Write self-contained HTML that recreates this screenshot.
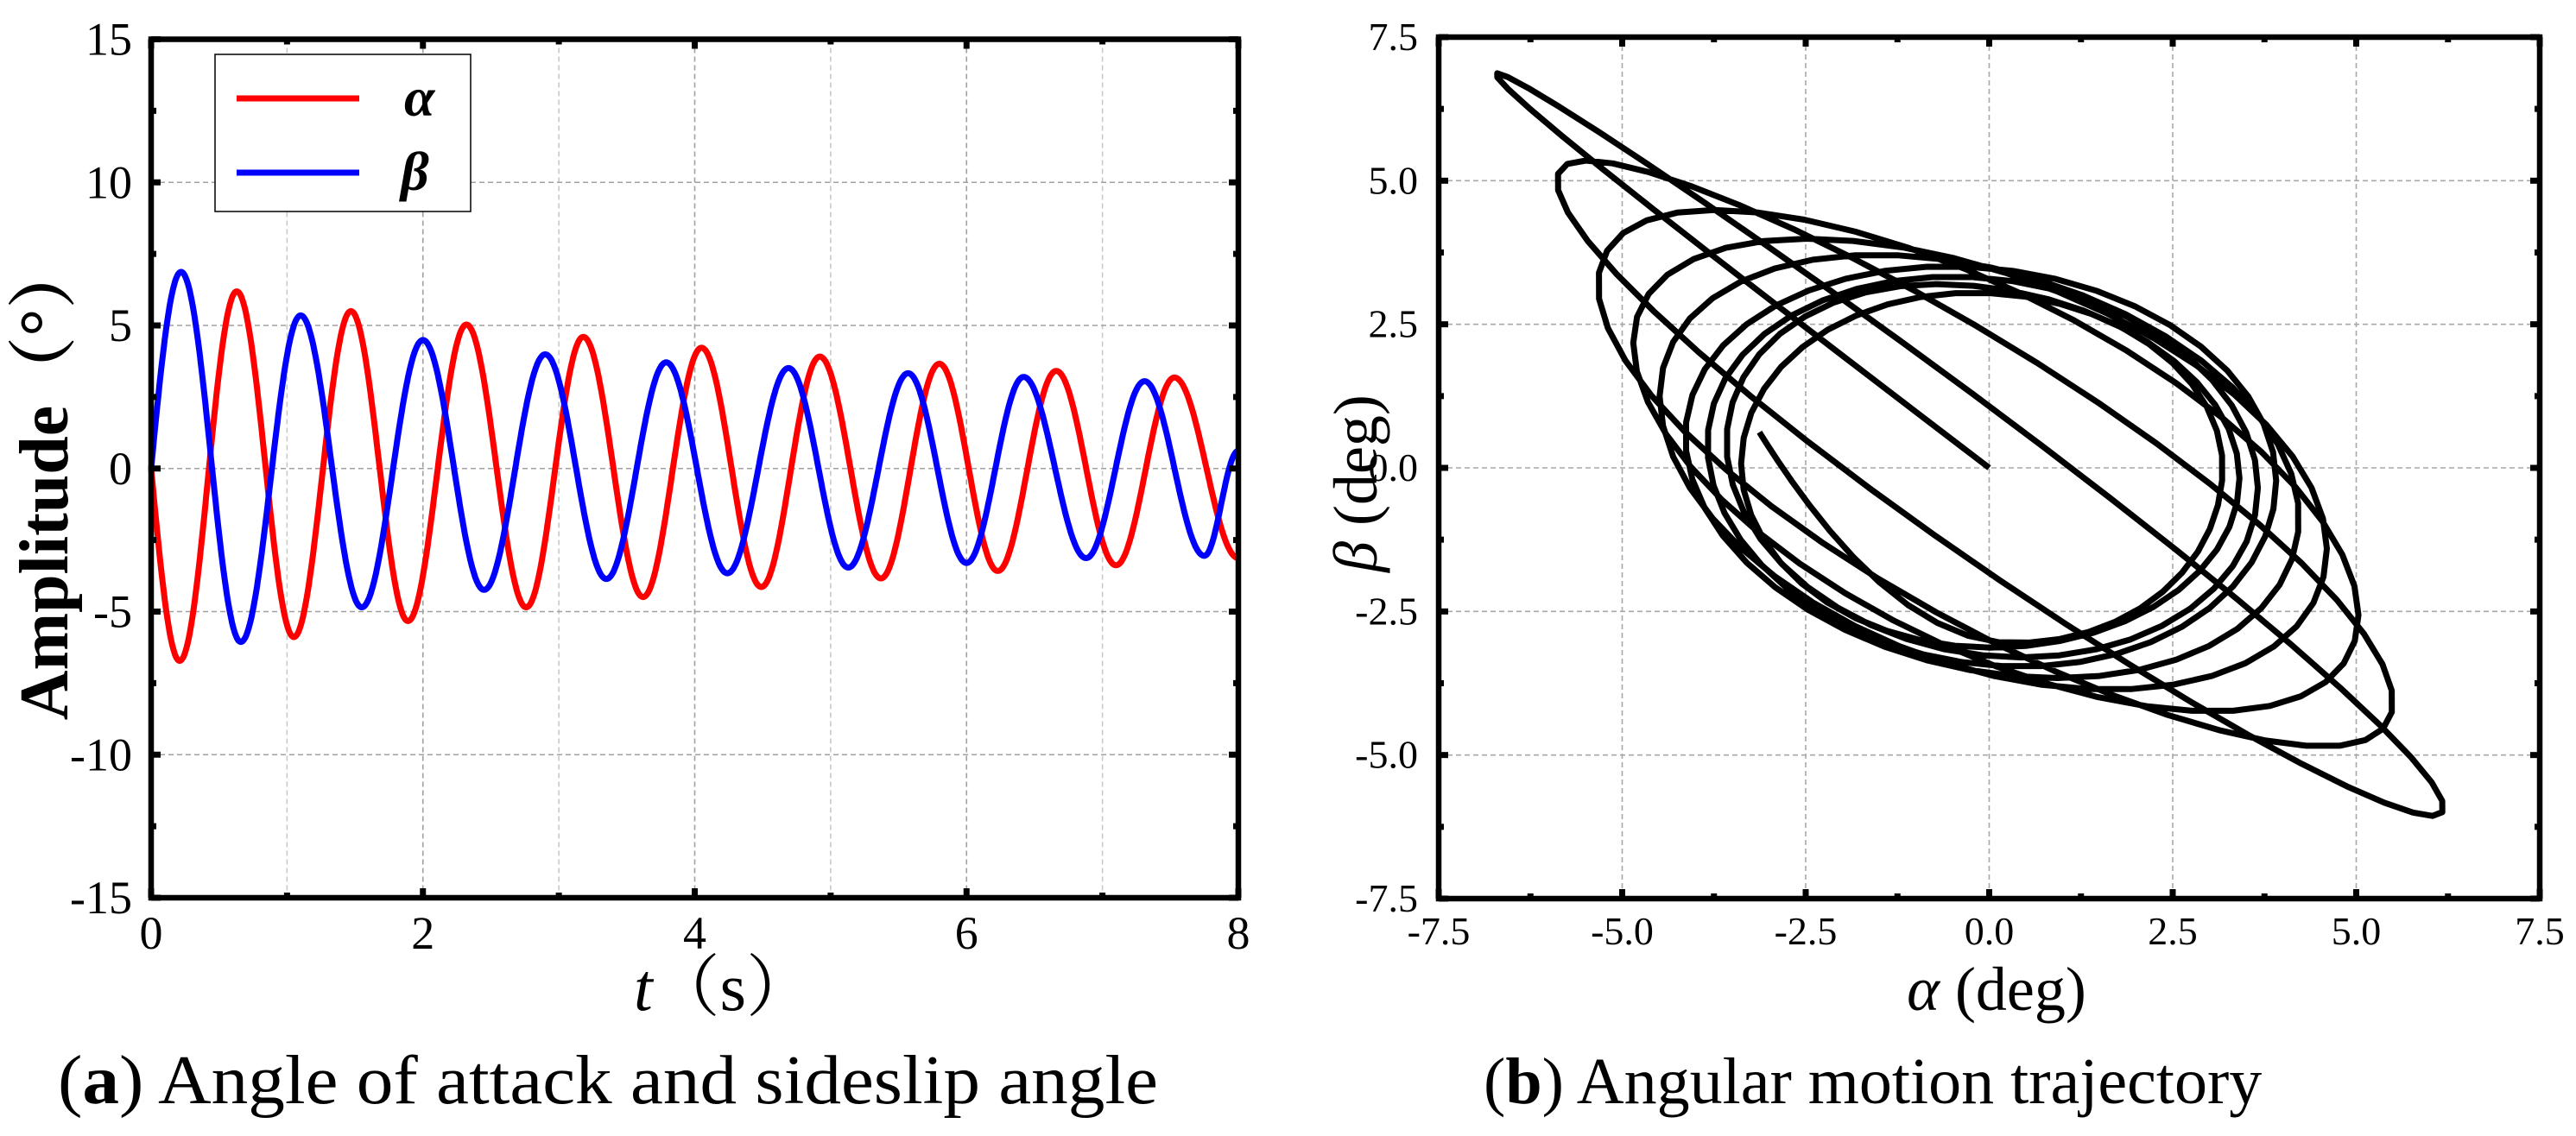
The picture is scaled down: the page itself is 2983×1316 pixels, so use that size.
<!DOCTYPE html>
<html><head><meta charset="utf-8"><style>
html,body{margin:0;padding:0;background:#fff;}
svg{display:block;font-family:"Liberation Serif","Noto Serif CJK SC",serif;}
</style></head><body>
<svg id="fig" width="2983" height="1316" viewBox="0 0 2983 1316" xmlns="http://www.w3.org/2000/svg">
<g id="pa"></g>
<g id="pb"></g>
<text x="67" y="1278" font-size="80" textLength="1274" lengthAdjust="spacingAndGlyphs">(<tspan font-weight="bold">a</tspan>) Angle of attack and sideslip angle</text>
<text x="1718" y="1278" font-size="76">(<tspan font-weight="bold">b</tspan>) Angular motion trajectory</text>
</svg>
<script>
// Alpha extrema (time s, deg)
const alphaT = [0, 0.21, 0.63, 1.05, 1.47, 1.89, 2.32, 2.76, 3.18, 3.62, 4.05, 4.49, 4.92, 5.37, 5.80, 6.23, 6.66, 7.10, 7.53, 8.0];
const alphaV = [0, -6.72, 6.19, -5.89, 5.5, -5.33, 5.03, -4.85, 4.6, -4.49, 4.22, -4.14, 3.91, -3.84, 3.66, -3.58, 3.41, -3.38, 3.18, -3.13];
// Beta extrema (time s, deg)
const betaT = [0, 0.22, 0.66, 1.10, 1.55, 2.0, 2.45, 2.9, 3.35, 3.79, 4.24, 4.69, 5.13, 5.57, 6.0, 6.42, 6.88, 7.31, 7.75, 8.0];
const betaV = [0, 6.87, -6.06, 5.35, -4.85, 4.49, -4.24, 3.99, -3.86, 3.71, -3.66, 3.51, -3.46, 3.33, -3.3, 3.2, -3.13, 3.05, -3.05, 0.62];
const xTicksA = [0, 2, 4, 6, 8];
const yTicksA = [-15, -10, -5, 0, 5, 10, 15];
const ticksB = [-7.5, -5.0, -2.5, 0.0, 2.5, 5.0, 7.5];

const NS = "http://www.w3.org/2000/svg";
function el(tag, attrs, parent) {
  const e = document.createElementNS(NS, tag);
  for (const k in attrs) e.setAttribute(k, attrs[k]);
  parent.appendChild(e);
  return e;
}
function sampleSeries(T, V, t) {
  if (t <= T[0]) return V[0];
  for (let i = 0; i < T.length - 1; i++) {
    if (t <= T[i + 1]) {
      const u = (t - T[i]) / (T[i + 1] - T[i]);
      if (i === 0) return V[0] + (V[1] - V[0]) * Math.sin(Math.PI / 2 * u);
      return V[i] + (V[i + 1] - V[i]) * (1 - Math.cos(Math.PI * u)) / 2;
    }
  }
  return V[V.length - 1];
}

// ---------- Panel A ----------
const pa = document.getElementById('pa');
const A = {l: 175, r: 1434, t: 45.5, b: 1040};
const ax = v => A.l + (v - 0) / 8 * (A.r - A.l);
const ay = v => A.b - (v + 15) / 30 * (A.b - A.t);

for (let v = 1; v < 8; v++) {
  const g = el('line', {x1: ax(v), x2: ax(v), y1: A.t, y2: A.b, stroke: v % 2 ? '#c8c8c8' : '#a0a0a0', 'stroke-width': 1.6, 'stroke-dasharray': '6,4'}, pa);
  
  
}
for (const v of [-10, -5, 0, 5, 10]) {
  const g = el('line', {x1: A.l, x2: A.r, y1: ay(v), y2: ay(v), stroke: '#a0a0a0', 'stroke-width': 1.6, 'stroke-dasharray': '6,4'}, pa);
  
  
}
function seriesPath(T, V, xf, yf) {
  let d = '';
  for (let t = 0; t <= 8.0001; t += 0.005) {
    d += (d ? 'L' : 'M') + xf(t).toFixed(1) + ',' + yf(sampleSeries(T, V, t)).toFixed(1);
  }
  return d;
}
const pA = el('path', {d: seriesPath(alphaT, alphaV, ax, ay), fill: 'none', stroke: '#ff0000', 'stroke-width': 7, 'stroke-linejoin': 'round'}, pa);


const pB = el('path', {d: seriesPath(betaT, betaV, ax, ay), fill: 'none', stroke: '#0000ff', 'stroke-width': 7, 'stroke-linejoin': 'round'}, pa);



for (let v = 0; v <= 8; v++) {
  const len = v % 2 ? 6 : 11;
  for (const [y0, dir] of [[A.b, -1], [A.t, 1]]) {
    const tk = el('line', {x1: ax(v), x2: ax(v), y1: y0, y2: y0 + dir * len, stroke: '#000', 'stroke-width': 7}, pa);
    
    
  }
}
for (let v = -15; v <= 15; v += 2.5) {
  const len = (v % 5) ? 6 : 11;
  for (const [x0, dir] of [[A.l, 1], [A.r, -1]]) {
    const tk = el('line', {x1: x0, x2: x0 + dir * len, y1: ay(v), y2: ay(v), stroke: '#000', 'stroke-width': 7}, pa);
    
    
  }
}
const fA = el('rect', {x: A.l, y: A.t, width: A.r - A.l, height: A.b - A.t, fill: 'none', stroke: '#000', 'stroke-width': 6.5}, pa);


for (const v of xTicksA) {
  const t = el('text', {x: ax(v), y: 1099, 'font-size': 54, 'text-anchor': 'middle'}, pa);
  t.textContent = v;
  
  
}
for (const v of yTicksA) {
  const t = el('text', {x: 153, y: ay(v) + 18, 'font-size': 54, 'text-anchor': 'end'}, pa);
  t.textContent = v;
  
  
}
const lg = el('g', {}, pa);


el('rect', {x: 249, y: 63, width: 296, height: 182, fill: '#fff', stroke: '#000', 'stroke-width': 1.5}, lg);
el('line', {x1: 274, x2: 416, y1: 114, y2: 114, stroke: '#ff0000', 'stroke-width': 7}, lg);
el('line', {x1: 274, x2: 416, y1: 200, y2: 200, stroke: '#0000ff', 'stroke-width': 7}, lg);
const la = el('text', {x: 468, y: 134, 'font-size': 64, 'font-weight': 'bold', 'font-style': 'italic'}, lg);
la.textContent = 'α';


const lb = el('text', {x: 464, y: 220, 'font-size': 64, 'font-weight': 'bold', 'font-style': 'italic'}, lg);
lb.textContent = 'β';


const ya = el('text', {x: 0, y: 0, 'font-size': 80, 'font-weight': 'bold', 'text-anchor': 'middle', transform: 'translate(78,556) rotate(-90)'}, pa);
ya.textContent = 'Amplitude（°）';


const xa = el('text', {x: 838, y: 1170, 'font-size': 78, 'text-anchor': 'middle'}, pa);
xa.innerHTML = '<tspan font-style="italic">t</tspan>（s）';



// ---------- Panel B ----------
const pb = document.getElementById('pb');
const B = {l: 1666, r: 2941, t: 43, b: 1041};
const bx = v => B.l + (v + 7.5) / 15 * (B.r - B.l);
const by = v => B.b - (v + 7.5) / 15 * (B.b - B.t);
for (const v of [-5, -2.5, 0, 2.5, 5]) {
  const g1 = el('line', {x1: bx(v), x2: bx(v), y1: B.t, y2: B.b, stroke: '#a8a8a8', 'stroke-width': 1.6, 'stroke-dasharray': '6,4'}, pb);
  
  
  const g2 = el('line', {x1: B.l, x2: B.r, y1: by(v), y2: by(v), stroke: '#a8a8a8', 'stroke-width': 1.6, 'stroke-dasharray': '6,4'}, pb);
  
  
}
let dB = '';
for (let t = 0; t <= 8.0001; t += 0.02) {
  dB += (dB ? 'L' : 'M') + bx(sampleSeries(alphaT, alphaV, t)).toFixed(1) + ',' + by(sampleSeries(betaT, betaV, t)).toFixed(1);
}
const tr = el('path', {d: dB, fill: 'none', stroke: '#000', 'stroke-width': 7, 'stroke-linejoin': 'round'}, pb);


for (let v = -7.5; v <= 7.5; v += 1.25) {
  const len = (Math.abs(v / 2.5 - Math.round(v / 2.5)) > 0.01) ? 6 : 11;
  for (const [y0, dir] of [[B.b, -1], [B.t, 1]]) {
    const tk = el('line', {x1: bx(v), x2: bx(v), y1: y0, y2: y0 + dir * len, stroke: '#000', 'stroke-width': 7}, pb);
    
    
  }
  for (const [x0, dir] of [[B.l, 1], [B.r, -1]]) {
    const tk = el('line', {x1: x0, x2: x0 + dir * len, y1: by(v), y2: by(v), stroke: '#000', 'stroke-width': 7}, pb);
    
    
  }
}
const fB = el('rect', {x: B.l, y: B.t, width: B.r - B.l, height: B.b - B.t, fill: 'none', stroke: '#000', 'stroke-width': 6.5}, pb);


for (const v of ticksB) {
  const t1 = el('text', {x: bx(v), y: 1094, 'font-size': 46, 'text-anchor': 'middle'}, pb);
  t1.textContent = v.toFixed(1);
  
  
  const t2 = el('text', {x: 1642, y: by(v) + 15, 'font-size': 46, 'text-anchor': 'end'}, pb);
  t2.textContent = v.toFixed(1);
  
  
}
const xb = el('text', {x: 2312, y: 1170, 'font-size': 72, 'text-anchor': 'middle'}, pb);
xb.innerHTML = '<tspan font-style="italic">α</tspan> (deg)';


const yb = el('text', {x: 0, y: 0, 'font-size': 72, 'text-anchor': 'middle', transform: 'translate(1594,560) rotate(-90)'}, pb);
yb.innerHTML = '<tspan font-style="italic">β</tspan> (deg)';


</script>
</body></html>
